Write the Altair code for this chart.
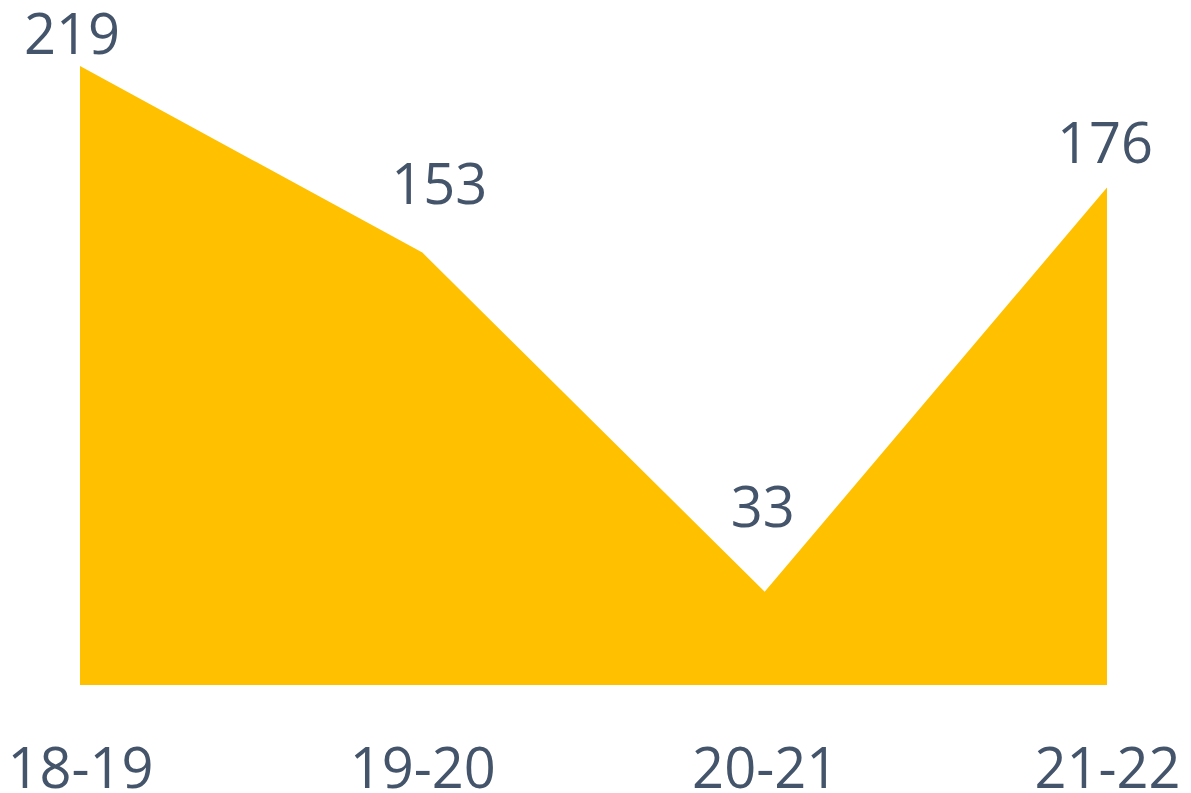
import altair as alt
import pandas as pd

seasons = ["18-19", "19-20", "20-21", "21-22"]
values = [219, 153, 33, 176]

# label placement offsets (style, not data)
label_dx = {"18-19": -8, "19-20": 17, "20-21": -2, "21-22": -2}
label_dy = {"18-19": -12, "19-20": -49, "20-21": -65, "21-22": -25}

df = pd.DataFrame({"season": seasons, "value": values})

FONT = "Open Sans"
TEXT_COLOR = "#44546A"

x = alt.X("season:O", sort=seasons,
          scale=alt.Scale(type="point", padding=0),
          axis=alt.Axis(title=None, domain=False, ticks=False, tickSize=0, grid=False,
                        labelAngle=0, labelFont=FONT, labelFontSize=56,
                        labelColor=TEXT_COLOR, labelPadding=102,
                        labelBaseline="alphabetic"))
y = alt.Y("value:Q", scale=alt.Scale(domain=[0, 219], nice=False, zero=True),
          axis=None)

area = alt.Chart(df).mark_area(color="#FFC000", opacity=1, interpolate="linear").encode(x=x, y=y)

layers = [area]
for s, v in zip(seasons, values):
    t = alt.Chart(df).transform_filter(alt.datum.season == s).mark_text(
        font=FONT, fontSize=56, color=TEXT_COLOR, align="center",
        baseline="alphabetic", dx=label_dx[s], dy=label_dy[s]
    ).encode(x=alt.X("season:O", sort=seasons, scale=alt.Scale(type="point", padding=0)),
             y=alt.Y("value:Q"), text=alt.Text("value:Q"))
    layers.append(t)

chart = alt.layer(*layers).properties(
    width=1027, height=619,
    autosize=alt.AutoSizeParams(type="none"),
    padding={"left": 72, "top": 58, "right": 76, "bottom": 130},
    background="white",
).configure_view(strokeWidth=0)

chart.save("out.html", embed_options={"renderer": "svg", "actions": False})
